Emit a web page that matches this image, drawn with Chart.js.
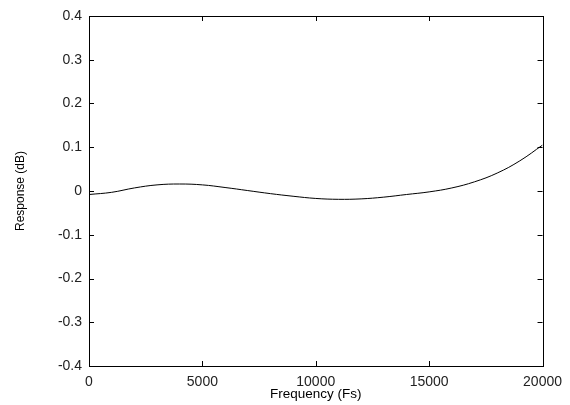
<!DOCTYPE html>
<html>
<head>
    <meta charset="utf-8">
    <script src="https://cdn.jsdelivr.net/npm/chart.js"></script>
    <title>Response</title>
    <script>
        // частоты (Fs) и отклик (dB)
        var freqs = [0, 1000, 2000, 3000, 4000, 5000, 6000, 7000, 8000, 9000, 10000,
            11000, 12000, 13000, 14000, 15000, 16000, 17000, 18000, 19000, 20000];
        var response = [-0.008, -0.003, 0.007, 0.014, 0.016, 0.014, 0.008, 0.001, -0.006, -0.012, -0.017,
            -0.019, -0.018, -0.014, -0.008, -0.002, 0.007, 0.021, 0.041, 0.069, 0.105];
        var xTicks = [0, 5000, 10000, 15000, 20000];
        var yTicks = [-0.4, -0.3, -0.2, -0.1, 0, 0.1, 0.2, 0.3, 0.4];
    </script>
    <style>
        body { margin: 0; background: #fff; }
        #wrap { width: 570px; height: 405px; }
    </style>
</head>
<body>
    <div id="wrap"><canvas id="myChart"></canvas></div>
    <script>
        var points = freqs.map(function (f, i) { return { x: f, y: response[i] }; });

        // рамка и внутренние засечки как в gnuplot
        var frameTicks = {
            id: 'frameTicks',
            afterDraw: function (chart) {
                var c = chart.ctx, a = chart.chartArea;
                var xs = chart.scales.x, ys = chart.scales.y;
                var len = 5;
                c.save();
                c.strokeStyle = '#000';
                c.lineWidth = 1;
                c.strokeRect(Math.round(a.left) + 0.5, Math.round(a.top) + 0.5,
                    Math.round(a.right - a.left), Math.round(a.bottom - a.top));
                c.beginPath();
                xTicks.forEach(function (v) {
                    var px = Math.round(xs.getPixelForValue(v)) + 0.5;
                    c.moveTo(px, a.bottom); c.lineTo(px, a.bottom - len);
                    c.moveTo(px, a.top); c.lineTo(px, a.top + len);
                });
                yTicks.forEach(function (v) {
                    var py = Math.round(ys.getPixelForValue(v)) + 0.5;
                    c.moveTo(a.left, py); c.lineTo(a.left + len, py);
                    c.moveTo(a.right, py); c.lineTo(a.right - len, py);
                });
                c.stroke();
                c.restore();
            }
        };

        var ctx = document.getElementById('myChart').getContext('2d');
        var myChart = new Chart(ctx, {
            type: 'line',
            data: {
                datasets: [{
                    data: points,
                    borderColor: '#000',
                    borderWidth: 1,
                    pointRadius: 0,
                    tension: 0.4,
                    fill: false
                }]
            },
            options: {
                responsive: true,
                maintainAspectRatio: false,
                animation: false,
                layout: { padding: { top: 16, right: 25, bottom: 3, left: 0 } },
                plugins: { legend: { display: false }, tooltip: { enabled: false } },
                scales: {
                    x: {
                        type: 'linear',
                        min: 0,
                        max: 20000,
                        grid: { display: false, drawTicks: false },
                        border: { display: false },
                        ticks: {
                            stepSize: 5000,
                            padding: 8,
                            maxRotation: 0,
                            color: '#222',
                            font: { family: 'Liberation Sans', size: 14 },
                            callback: function (v) { return String(v); }
                        },
                        title: {
                            display: true,
                            text: 'Frequency (Fs)',
                            color: '#000',
                            padding: { top: -13, bottom: 0 },
                            font: { family: 'Liberation Sans', size: 13.5 }
                        }
                    },
                    y: {
                        min: -0.4,
                        max: 0.4,
                        grid: { display: false, drawTicks: false },
                        border: { display: false },
                        afterFit: function (scale) { scale.width = 89; },
                        ticks: {
                            stepSize: 0.1,
                            padding: 7,
                            color: '#222',
                            font: { family: 'Liberation Sans', size: 14 },
                            callback: function (v) { return String(Number(v.toFixed(1))); }
                        },
                        title: {
                            display: true,
                            text: 'Response (dB)',
                            color: '#000',
                            padding: { top: 13, bottom: 6 },
                            font: { family: 'Liberation Sans', size: 12 }
                        }
                    }
                }
            },
            plugins: [frameTicks]
        });
    </script>
</body>
</html>
